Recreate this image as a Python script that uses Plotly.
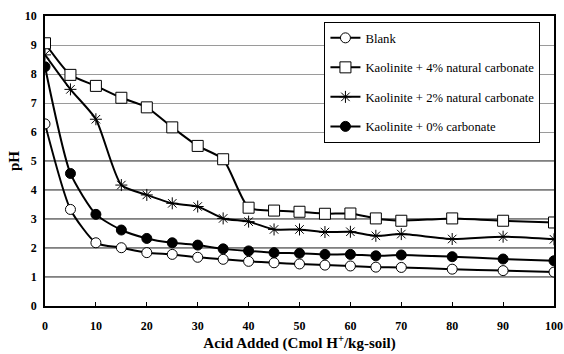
import plotly.graph_objects as go

# Acid added (Cmol H+/kg-soil)
acid = [0, 5, 10, 15, 20, 25, 30, 35, 40, 45, 50, 55, 60, 65, 70, 80, 90, 100]

ph_blank = [6.28, 3.33, 2.18, 2.01, 1.84, 1.78, 1.68, 1.61, 1.54, 1.49, 1.45, 1.41, 1.38, 1.34, 1.33, 1.27, 1.22, 1.17]
ph_kaol_4pct = [9.06, 7.97, 7.59, 7.18, 6.85, 6.16, 5.52, 5.06, 3.39, 3.29, 3.25, 3.18, 3.19, 3.02, 2.94, 3.02, 2.94, 2.88]
ph_kaol_2pct = [8.66, 7.47, 6.44, 4.17, 3.83, 3.54, 3.43, 3.02, 2.91, 2.64, 2.64, 2.55, 2.56, 2.42, 2.48, 2.31, 2.39, 2.30]
ph_kaol_0pct = [8.25, 4.57, 3.16, 2.62, 2.33, 2.18, 2.10, 1.97, 1.90, 1.84, 1.82, 1.78, 1.78, 1.73, 1.76, 1.70, 1.62, 1.56]

x_ticks = [0, 10, 20, 30, 40, 50, 60, 70, 80, 90, 100]
y_ticks = [0, 1, 2, 3, 4, 5, 6, 7, 8, 9, 10]

series = [
    ("Blank", ph_blank, dict(symbol="circle", size=10, color="white", line=dict(color="black", width=1))),
    ("Kaolinite + 4% natural carbonate", ph_kaol_4pct, dict(symbol="square", size=11, color="white", line=dict(color="black", width=1))),
    ("Kaolinite + 2% natural carbonate", ph_kaol_2pct, dict(symbol="asterisk-open", size=10, color="black", line=dict(color="black", width=1))),
    ("Kaolinite + 0% carbonate", ph_kaol_0pct, dict(symbol="circle", size=10, color="black", line=dict(color="black", width=1))),
]

serif = "Liberation Serif"

fig = go.Figure()
for i, (name, vals, marker) in enumerate(series):
    fig.add_trace(go.Scatter(
        x=acid, y=vals, name=name, mode="lines+markers",
        line=dict(color="black", width=2, shape="spline", smoothing=0.6),
        marker=marker, legendgroup=f"g{i}",
    ))

# darker reference lines for the lower pH band
for yv in [1, 2, 3, 4, 5]:
    fig.add_shape(type="line", xref="paper", x0=0, x1=1, yref="y", y0=yv, y1=yv,
                  line=dict(color="black", width=1), layer="below")

fig.update_layout(
    width=564, height=354,
    margin=dict(l=45, r=10, t=16, b=48),
    paper_bgcolor="white", plot_bgcolor="white",
    font=dict(family=serif, color="black"),
    showlegend=True,
    legend=dict(
        x=0.549, y=0.979, xanchor="left", yanchor="top",
        bgcolor="white", bordercolor="black", borderwidth=1,
        font=dict(family=serif, size=12.7, color="black"),
        tracegroupgap=10, itemwidth=30,
    ),
    xaxis=dict(
        range=[0, 100], tickvals=x_ticks, ticks="inside", ticklen=4, tickcolor="black",
        showline=True, linecolor="black", linewidth=1.5, mirror=True,
        showgrid=False, zeroline=False, ticklabelstandoff=8, automargin=False,
        tickfont=dict(family=serif, size=12, color="black", weight="bold"),
        title=dict(text="<b>Acid Added (Cmol H<sup>+</sup>/kg-soil)</b>", font=dict(family=serif, size=15), standoff=2),
    ),
    yaxis=dict(
        range=[0, 10], tickvals=y_ticks, ticks="", showline=True, linecolor="black", linewidth=1.5,
        mirror=True, showgrid=True, gridcolor="#9a9a9a", gridwidth=1, zeroline=False,
        ticklabelstandoff=4, automargin=False,
        tickfont=dict(family=serif, size=12, color="black", weight="bold"),
        title=dict(text="<b>pH</b>", font=dict(family=serif, size=15), standoff=2),
    ),
)

fig.write_html("out.html")
